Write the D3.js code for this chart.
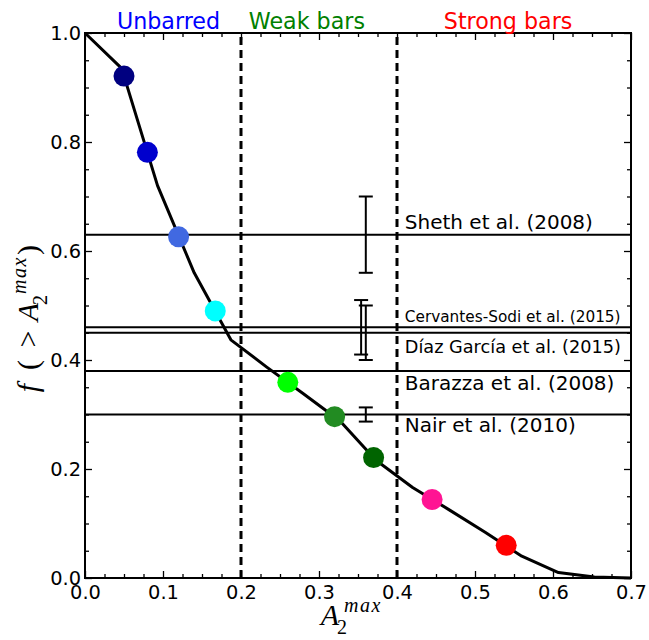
<!DOCTYPE html>
<html>
<head>
<meta charset="utf-8">
<script src="https://cdn.jsdelivr.net/npm/d3@7"></script>
<style>
  html, body { margin: 0; padding: 0; background: #fff; }
  svg { display: block; }
  .tick text { font-family: "DejaVu Sans", sans-serif; font-size: 19.4px; fill: #000; }
</style>
</head>
<body>
<svg id="chart" width="649" height="640"></svg>
<script>
// Cumulative fraction of galaxies with bar strength above A2max
const curveA2 = [0, 0.047, 0.093, 0.14, 0.187, 0.233, 0.28, 0.327, 0.373, 0.42, 0.467, 0.513, 0.56, 0.607, 0.653, 0.70];
const curveFrac = [1.0, 0.935, 0.72, 0.56, 0.437, 0.387, 0.338, 0.288, 0.216, 0.166, 0.125, 0.084, 0.040, 0.010, 0.002, 0.0];

// Highlighted points along the curve
const pointA2 = [0.05, 0.08, 0.12, 0.167, 0.26, 0.32, 0.37, 0.445, 0.54];
const pointFrac = [0.921, 0.781, 0.626, 0.49, 0.359, 0.296, 0.221, 0.144, 0.06];
const pointColors = ["#000080", "#0000CD", "#4169E1", "#00FFFF", "#00FF00", "#228B22", "#006400", "#FF1493", "#FF0000"];

// Bar fractions from the literature
const refNames = ["Sheth et al. (2008)", "Cervantes-Sodi et al. (2015)", "Díaz García et al. (2015)", "Barazza et al. (2008)", "Nair et al. (2010)"];
const refFrac = [0.63, 0.46, 0.45, 0.38, 0.30];
const refErr = [0.07, 0.05, 0.05, null, 0.013];
const refErrA2 = [0.36, 0.354, 0.36, null, 0.36];
const refLabelFrac = [0.64, 0.47, 0.413, 0.345, 0.268];
const refLabelSize = [20, 15.3, 17.7, 20, 20];

// Bar-strength class boundaries and names
const classEdges = [0.2, 0.4];
const classNames = ["Unbarred", "Weak bars", "Strong bars"];
const classColors = ["#0000FF", "#008000", "#FF0000"];
const classLabelA2 = [0.041, 0.21, 0.46];

const xMajor = [0, 0.1, 0.2, 0.3, 0.4, 0.5, 0.6, 0.7];
const yMajor = [0, 0.2, 0.4, 0.6, 0.8, 1.0];

const svg = d3.select("#chart");
const margin = { left: 85, top: 33, right: 18, bottom: 62 };
const W = 649, H = 640;
const iw = W - margin.left - margin.right;
const ih = H - margin.top - margin.bottom;

const x = d3.scaleLinear().domain([0, 0.7]).range([margin.left, margin.left + iw]);
const y = d3.scaleLinear().domain([0, 1]).range([margin.top + ih, margin.top]);

const xMinor = d3.range(0, 0.7001, 0.025).filter(v => !xMajor.some(m => Math.abs(m - v) < 1e-9));
const yMinor = d3.range(0, 1.0001, 0.05).filter(v => !yMajor.some(m => Math.abs(m - v) < 1e-9));

const fmt = d3.format(".1f");

// Axes with inward ticks on all four sides
function addAxis(gen, tx, ty, values, size, labels, pad) {
  const a = gen.tickValues(values).tickSize(-size).tickPadding(pad || 3);
  if (labels) a.tickFormat(fmt); else a.tickFormat("");
  const g = svg.append("g").attr("transform", `translate(${tx},${ty})`).call(a);
  g.select(".domain").remove();
  g.selectAll(".tick line").attr("stroke", "#000").attr("stroke-width", 1.3);
  return g;
}
const yb = margin.top + ih, xr = margin.left + iw;
addAxis(d3.axisBottom(x), 0, yb, xMajor, 7, true, 7);
addAxis(d3.axisBottom(x), 0, yb, xMinor, 4, false);
addAxis(d3.axisTop(x), 0, margin.top, xMajor, 7, false);
addAxis(d3.axisTop(x), 0, margin.top, xMinor, 4, false);
addAxis(d3.axisLeft(y), margin.left, 0, yMajor, 7, true, 4);
addAxis(d3.axisLeft(y), margin.left, 0, yMinor, 4, false);
addAxis(d3.axisRight(y), xr, 0, yMajor, 7, false);
addAxis(d3.axisRight(y), xr, 0, yMinor, 4, false);

// Reference horizontal lines
svg.append("g").selectAll("line").data(refFrac).join("line")
  .attr("x1", x(0)).attr("x2", x(0.7))
  .attr("y1", d => y(d)).attr("y2", d => y(d))
  .attr("stroke", "#000").attr("stroke-width", 2);

// Class boundaries
svg.append("g").selectAll("line").data(classEdges).join("line")
  .attr("x1", d => x(d)).attr("x2", d => x(d))
  .attr("y1", y(0)).attr("y2", y(1))
  .attr("stroke", "#000").attr("stroke-width", 3)
  .attr("stroke-dasharray", "8,5");

// Error bars
const eg = svg.append("g");
refFrac.forEach((f, i) => {
  if (refErr[i] == null) return;
  const cx = x(refErrA2[i]);
  const y0 = y(f - refErr[i]), y1 = y(f + refErr[i]);
  eg.append("line").attr("x1", cx).attr("x2", cx).attr("y1", y0).attr("y2", y1)
    .attr("stroke", "#000").attr("stroke-width", 2);
  [y0, y1].forEach(yy => eg.append("line")
    .attr("x1", cx - 7).attr("x2", cx + 7).attr("y1", yy).attr("y2", yy)
    .attr("stroke", "#000").attr("stroke-width", 2));
});

// Reference labels
svg.append("g").selectAll("text").data(refNames).join("text")
  .attr("x", x(0.41))
  .attr("y", (d, i) => y(refLabelFrac[i]))
  .attr("font-family", "DejaVu Sans, sans-serif")
  .attr("font-size", (d, i) => refLabelSize[i])
  .attr("fill", "#000")
  .text(d => d);

// Cumulative curve
const line = d3.line().x(d => x(d[0])).y(d => y(d[1]));
svg.append("path")
  .datum(curveA2.map((v, i) => [v, curveFrac[i]]))
  .attr("d", line)
  .attr("fill", "none").attr("stroke", "#000").attr("stroke-width", 3)
  .attr("stroke-linejoin", "round");

// Points
svg.append("g").selectAll("circle").data(pointA2).join("circle")
  .attr("cx", d => x(d))
  .attr("cy", (d, i) => y(pointFrac[i]))
  .attr("r", 10.5)
  .attr("fill", (d, i) => pointColors[i]);

// Frame
svg.append("rect")
  .attr("x", margin.left).attr("y", margin.top).attr("width", iw).attr("height", ih)
  .attr("fill", "none").attr("stroke", "#000").attr("stroke-width", 2);

// Class names above the plot
svg.append("g").selectAll("text").data(classNames).join("text")
  .attr("x", (d, i) => x(classLabelA2[i]))
  .attr("y", 29)
  .attr("font-family", "DejaVu Sans, sans-serif")
  .attr("font-size", 22.2)
  .attr("fill", (d, i) => classColors[i])
  .text(d => d);

// Math-style axis labels: one text element, each piece a tspan placed in its own slot
function mathLabel(g, pieces) {
  const t = g.append("text")
    .attr("text-anchor", "middle")
    .attr("font-family", "Liberation Serif, DejaVu Serif, serif")
    .attr("fill", "#000");
  pieces.forEach(p => {
    t.append("tspan")
      .attr("x", p.x).attr("y", p.dy || 0)
      .attr("font-style", p.italic ? "italic" : "normal")
      .attr("font-size", p.size)
      .attr("letter-spacing", p.ls || 0)
      .text(p.t);
  });
}
const big = 30, small = 20;
mathLabel(svg.append("g").attr("transform", "translate(317,625)"), [
  { t: "A", x: 13, size: big, italic: true },
  { t: "2", x: 25, dy: 9, size: small },
  { t: "max", x: 46, dy: -13, size: small, italic: true, ls: 1.5 }
]);
mathLabel(svg.append("g").attr("transform", "translate(38,398) rotate(-90)"), [
  { t: "f", x: 10, size: big, italic: true },
  { t: "(", x: 33, size: big },
  { t: ">", x: 59, size: big },
  { t: "A", x: 86, size: big, italic: true },
  { t: "2", x: 98, dy: 9, size: small },
  { t: "max", x: 123, dy: -12, size: small, italic: true, ls: 1.5 },
  { t: ")", x: 148, size: big }
]);
</script>
</body>
</html>
